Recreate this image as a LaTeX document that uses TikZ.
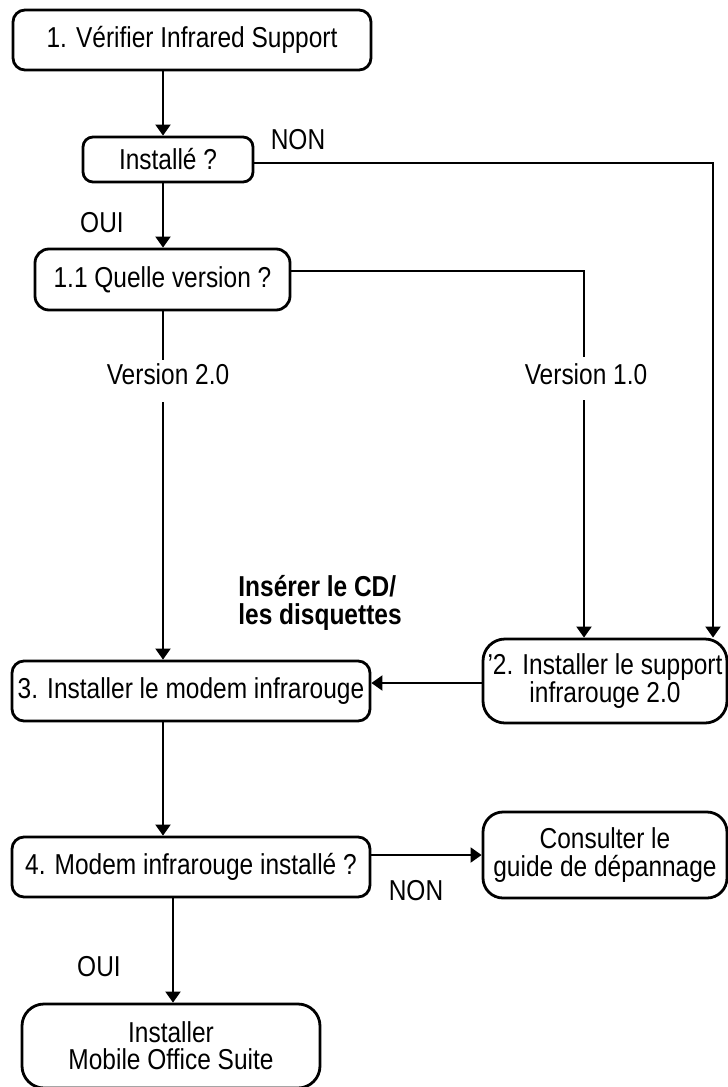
\documentclass[tikz,border=0pt]{standalone}
\usepackage{fontspec}
\setmainfont{Liberation Sans}[FakeStretch=0.85]
\usetikzlibrary{arrows.meta,calc}
\begin{document}
\begin{tikzpicture}[x=0.5pt,y=-0.5pt,
  font=\fontsize{14.4pt}{13.6pt}\selectfont,
  box/.style={draw,line width=1.4pt,align=center,inner sep=1pt},
  lbl/.style={inner sep=0pt},
  conn/.style={line width=1pt},
  arr/.style={line width=1pt,-{Triangle[length=5.5pt,width=7.5pt]}}]
\useasboundingbox (0,0) rectangle (728,1087);
\clip (0,0) rectangle (728,1087);
% boxes
\node[box,rounded corners=6pt,minimum width=179pt,minimum height=30pt] (B1) at (192,40) {1. Vérifier Infrared Support};
\node[box,rounded corners=5pt,minimum width=85pt,minimum height=22.5pt] (I) at (168,159.5) {Installé ?};
\node[box,rounded corners=7pt,minimum width=127.5pt,minimum height=30.5pt] (Q) at (162.5,279.5) {1.1 Quelle version ?};
\node[box,rounded corners=11pt,minimum width=122pt,minimum height=42pt] (B2) at (605,681) {'2. Installer le support\\infrarouge 2.0};
\node[box,rounded corners=6pt,minimum width=179pt,minimum height=30pt] (B3) at (191,691) {3. Installer le modem infrarouge};
\node[box,rounded corners=6pt,minimum width=179pt,minimum height=30pt] (B4) at (191,867) {4. Modem infrarouge installé ?};
\node[box,rounded corners=10pt,minimum width=122pt,minimum height=43pt] (C) at (605,855) {Consulter le\\guide de dépannage};
\node[box,rounded corners=11pt,minimum width=149pt,minimum height=42pt] (F) at (171,1046) {Installer\\Mobile Office Suite};
% labels
\node[lbl] (non1) at (298,140) {NON};
\node[lbl] (oui1) at (102,223) {OUI};
\node[lbl] (v2) at (168,374) {Version 2.0};
\node[lbl] (v1) at (586,374) {Version 1.0};
\node[lbl,anchor=west,align=left,font=\fontsize{14.4pt}{13.6pt}\selectfont\bfseries] (cd) at (238,603) {Insérer le CD/\\les disquettes};
\node[lbl] (non2) at (416,891) {NON};
\node[lbl] (oui2) at (99,967) {OUI};
% helper coordinates
\coordinate (xa) at (163,0);
\coordinate (xb) at (173,0);
\coordinate (nx) at (713,163);
\coordinate (qv1) at (584,271);
\coordinate (v1top) at (584,357);
\coordinate (v1bot) at (584,400);
\coordinate (v2top) at (163,360);
\coordinate (v2bot) at (163,402);
% connectors
\draw[arr] (B1.south -| xa) -- (I.north -| xa);
\draw[arr] (I.south -| xa) -- (Q.north -| xa);
\draw[arr] (I.east |- nx) -- (nx) -- (B2.north -| nx);
\draw[conn] (Q.east |- qv1) -- (qv1) -- (v1top);
\draw[arr] (v1bot) -- (B2.north -| v1bot);
\draw[conn] (Q.south -| v2top) -- (v2top);
\draw[arr] (v2bot) -- (B3.north -| v2bot);
\draw[arr] ([yshift=-1pt]B2.west) -- ([yshift=-1pt]B2.west -| B3.east);
\draw[arr] (B3.south -| xa) -- (B4.north -| xa);
\draw[arr] (C.west -| B4.east) -- (C.west);
\draw[arr] (B4.south -| xb) -- (F.north -| xb);
\end{tikzpicture}
\end{document}
